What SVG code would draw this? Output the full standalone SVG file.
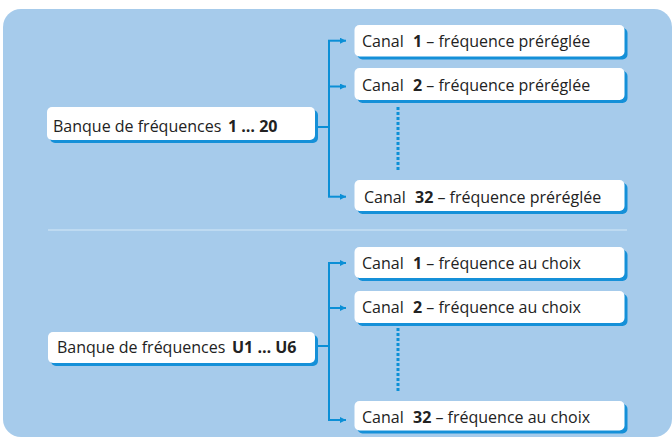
<svg xmlns="http://www.w3.org/2000/svg" width="672" height="438" viewBox="0 0 672 438">
<style>
.panel{fill:#a6cbeb}
.sep{stroke:#c6dff3;stroke-width:1.5;fill:none}
.shadow{fill:#1590d8}
.box{fill:#ffffff}
.t{font-family:"Open Sans","Liberation Sans",sans-serif;font-size:16px;fill:#222222}
.b{font-weight:bold}
.ln{stroke:#0b8fd6;stroke-width:2;fill:none}
.dot{stroke:#0b8fd6;stroke-width:3;stroke-dasharray:3 2;fill:none}
</style>
<defs>
<marker id="ah" viewBox="0 0 10 10" refX="10" refY="5" markerWidth="9" markerHeight="6" markerUnits="userSpaceOnUse" orient="auto">
<path d="M0,0 L10,5 L0,10 z" fill="#0b8fd6"/>
</marker>
</defs>
<rect class="panel" x="3" y="9" width="669" height="428" rx="18" ry="18"/>
<line class="sep" x1="48" y1="230" x2="627" y2="230"/>

<g id="connectors">
<path class="ln" d="M316,127 H329 M329,40.7 V196.7"/>
<path class="ln" d="M328,40.7 H346" marker-end="url(#ah)"/>
<path class="ln" d="M328,86.5 H346" marker-end="url(#ah)"/>
<path class="ln" d="M328,196.7 H346" marker-end="url(#ah)"/>
<line class="dot" x1="398" y1="107" x2="398" y2="170"/>
<path class="ln" d="M316,346 H329 M329,263 V420"/>
<path class="ln" d="M328,263 H346" marker-end="url(#ah)"/>
<path class="ln" d="M328,308 H346" marker-end="url(#ah)"/>
<path class="ln" d="M328,420 H346" marker-end="url(#ah)"/>
<line class="dot" x1="398" y1="328" x2="398" y2="392"/>
</g>

<g id="bank1">
<rect class="shadow" x="50" y="110" width="268" height="33" rx="5"/>
<rect class="box" x="47" y="107" width="268" height="33" rx="5"/>
<text class="t" x="53" y="132">Banque de fréquences <tspan class="b" x="228">1 … 20</tspan></text>
</g>
<g id="ch1a">
<rect class="shadow" x="357.5" y="28" width="270" height="31.5" rx="5"/>
<rect class="box" x="354.5" y="25" width="270" height="31.5" rx="5"/>
<text class="t" x="362" y="47">Canal <tspan class="b" x="413">1</tspan> – fréquence préréglée</text>
</g>
<g id="ch2a">
<rect class="shadow" x="357.5" y="71" width="270" height="32" rx="5"/>
<rect class="box" x="354.5" y="68" width="270" height="32" rx="5"/>
<text class="t" x="362" y="91">Canal <tspan class="b" x="413">2</tspan> – fréquence préréglée</text>
</g>
<g id="ch32a">
<rect class="shadow" x="357.5" y="183" width="270" height="31" rx="5"/>
<rect class="box" x="354.5" y="180" width="270" height="31" rx="5"/>
<text class="t" x="364" y="203">Canal <tspan class="b" x="415">32</tspan> – fréquence préréglée</text>
</g>

<g id="bank2">
<rect class="shadow" x="51" y="335" width="267" height="31" rx="5"/>
<rect class="box" x="48" y="332" width="267" height="31" rx="5"/>
<text class="t" x="57" y="353">Banque de fréquences <tspan class="b" x="232">U1 … U6</tspan></text>
</g>
<g id="ch1b">
<rect class="shadow" x="357.5" y="250" width="270" height="31" rx="5"/>
<rect class="box" x="354.5" y="247" width="270" height="31" rx="5"/>
<text class="t" x="362" y="269">Canal <tspan class="b" x="413">1</tspan> – fréquence au choix</text>
</g>
<g id="ch2b">
<rect class="shadow" x="357.5" y="294" width="270" height="32" rx="5"/>
<rect class="box" x="354.5" y="291" width="270" height="32" rx="5"/>
<text class="t" x="362" y="313">Canal <tspan class="b" x="413">2</tspan> – fréquence au choix</text>
</g>
<g id="ch32b">
<rect class="shadow" x="357.5" y="404" width="270" height="29.5" rx="5"/>
<rect class="box" x="354.5" y="401" width="270" height="29.5" rx="5"/>
<text class="t" x="362" y="423">Canal <tspan class="b" x="413">32</tspan> – fréquence au choix</text>
</g>
</svg>
